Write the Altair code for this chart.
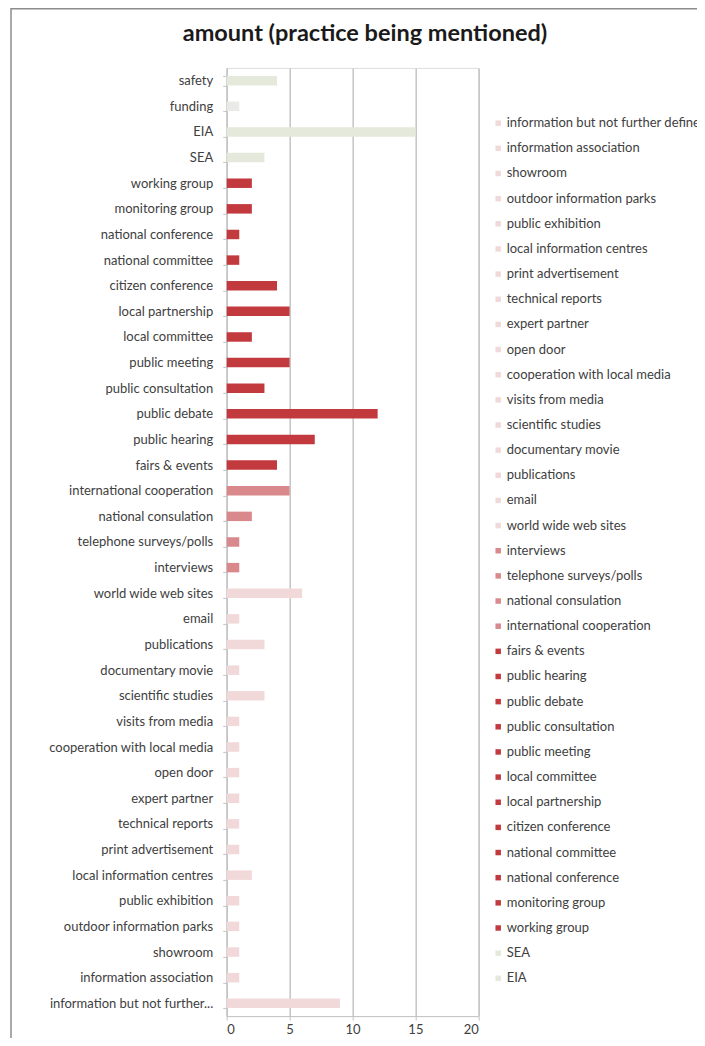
import altair as alt
import pandas as pd

categories = [
    "safety", "funding", "EIA", "SEA", "working group", "monitoring group",
    "national conference", "national committee", "citizen conference",
    "local partnership", "local committee", "public meeting",
    "public consultation", "public debate", "public hearing", "fairs & events",
    "international cooperation", "national consulation",
    "telephone surveys/polls", "interviews", "world wide web sites", "email",
    "publications", "documentary movie", "scientific studies",
    "visits from media", "cooperation with local media", "open door",
    "expert partner", "technical reports", "print advertisement",
    "local information centres", "public exhibition",
    "outdoor information parks", "showroom", "information association",
    "information but not further defined",
]
values = [4, 1, 15, 3, 2, 2, 1, 1, 4, 5, 2, 5, 3, 12, 7, 4, 5, 2, 1, 1, 6, 1,
          3, 1, 3, 1, 1, 1, 1, 1, 1, 2, 1, 1, 1, 1, 9]
groups = (["context"] * 4 + ["participation"] * 12 + ["consultation"] * 4
          + ["information"] * 17)
group_colors = {
    "context": "#E5E9DB",
    "participation": "#C23A3E",
    "consultation": "#D9888C",
    "information": "#F1D9DA",
}
color_of = {c: group_colors[g] for c, g in zip(categories, groups)}
color_of["funding"] = "#EAEBE6"

legend_order = [c for c in reversed(categories) if c not in ("safety", "funding")]
domain = legend_order + ["funding", "safety"]
rng = [color_of[c] for c in domain]

title_text = "amount (practice being mentioned)"

df = pd.DataFrame({"practice": categories, "amount": values})

FONT = "Lato"
TXT = "#404040"
GRID = "#C4C4C4"
LBL = 13.0

bars = alt.Chart(df).mark_bar().encode(
    y=alt.Y(
        "practice:N",
        sort=categories,
        title=None,
        scale=alt.Scale(paddingInner=0.63, paddingOuter=0.315),
        axis=alt.Axis(
            labelFont=FONT, labelFontSize=LBL, labelColor=TXT, labelPadding=10,
            tickBand="extent", tickSize=4, tickColor=GRID, domainColor=GRID,
            domainWidth=1.2, labelLimit=300,
            labelExpr="datum.label == 'information but not further defined' ? 'information but not further...' : datum.label",
        ),
    ),
    x=alt.X(
        "amount:Q",
        title=None,
        scale=alt.Scale(domain=[0, 20], nice=False),
        axis=alt.Axis(
            values=[0, 5, 10, 15, 20], grid=True, gridColor=GRID, gridWidth=1.5,
            labelFont=FONT, labelFontSize=LBL, labelColor=TXT, tickSize=4,
            tickColor=GRID, domainColor=GRID, labelPadding=3,
        ),
    ),
    color=alt.Color(
        "practice:N",
        scale=alt.Scale(domain=domain, range=rng),
        legend=alt.Legend(
            values=legend_order, title=None, orient="none", legendX=265,
            legendY=48.8, symbolType="square", symbolSize=30, symbolStrokeWidth=0,
            labelFont=FONT, labelFontSize=LBL, labelColor=TXT, labelLimit=600,
            rowPadding=11.15, labelOffset=2, padding=0, symbolLimit=0,
        ),
    ),
)

one = pd.DataFrame({"k": [0]})
frame_top = alt.Chart(one).mark_rule(color="#8C8C8C", strokeWidth=1.5).encode(
    x=alt.value(-215.7), x2=alt.value(480), y=alt.value(-59.1)
)
frame_left = alt.Chart(one).mark_rule(color="#8C8C8C", strokeWidth=1.5).encode(
    x=alt.value(-215.7), y=alt.value(-59.9), y2=alt.value(990)
)
title = alt.Chart(one).mark_text(
    font=FONT, fontSize=23.5, fontWeight="bold", color="#1A1A1A",
    align="center", baseline="middle",
).encode(x=alt.value(138.3), y=alt.value(-33.8), text=alt.value(title_text))

chart = alt.layer(frame_top, frame_left, title, bars).properties(
    width=251.6,
    height=948.2,
    autosize=alt.AutoSizeParams(type="none"),
    padding={"left": 218.7, "top": 59.9, "right": 218.7, "bottom": 21.8},
).configure_view(stroke=None).configure(background="white")

chart.save("out.html", embed_options={"renderer": "svg", "actions": False})
